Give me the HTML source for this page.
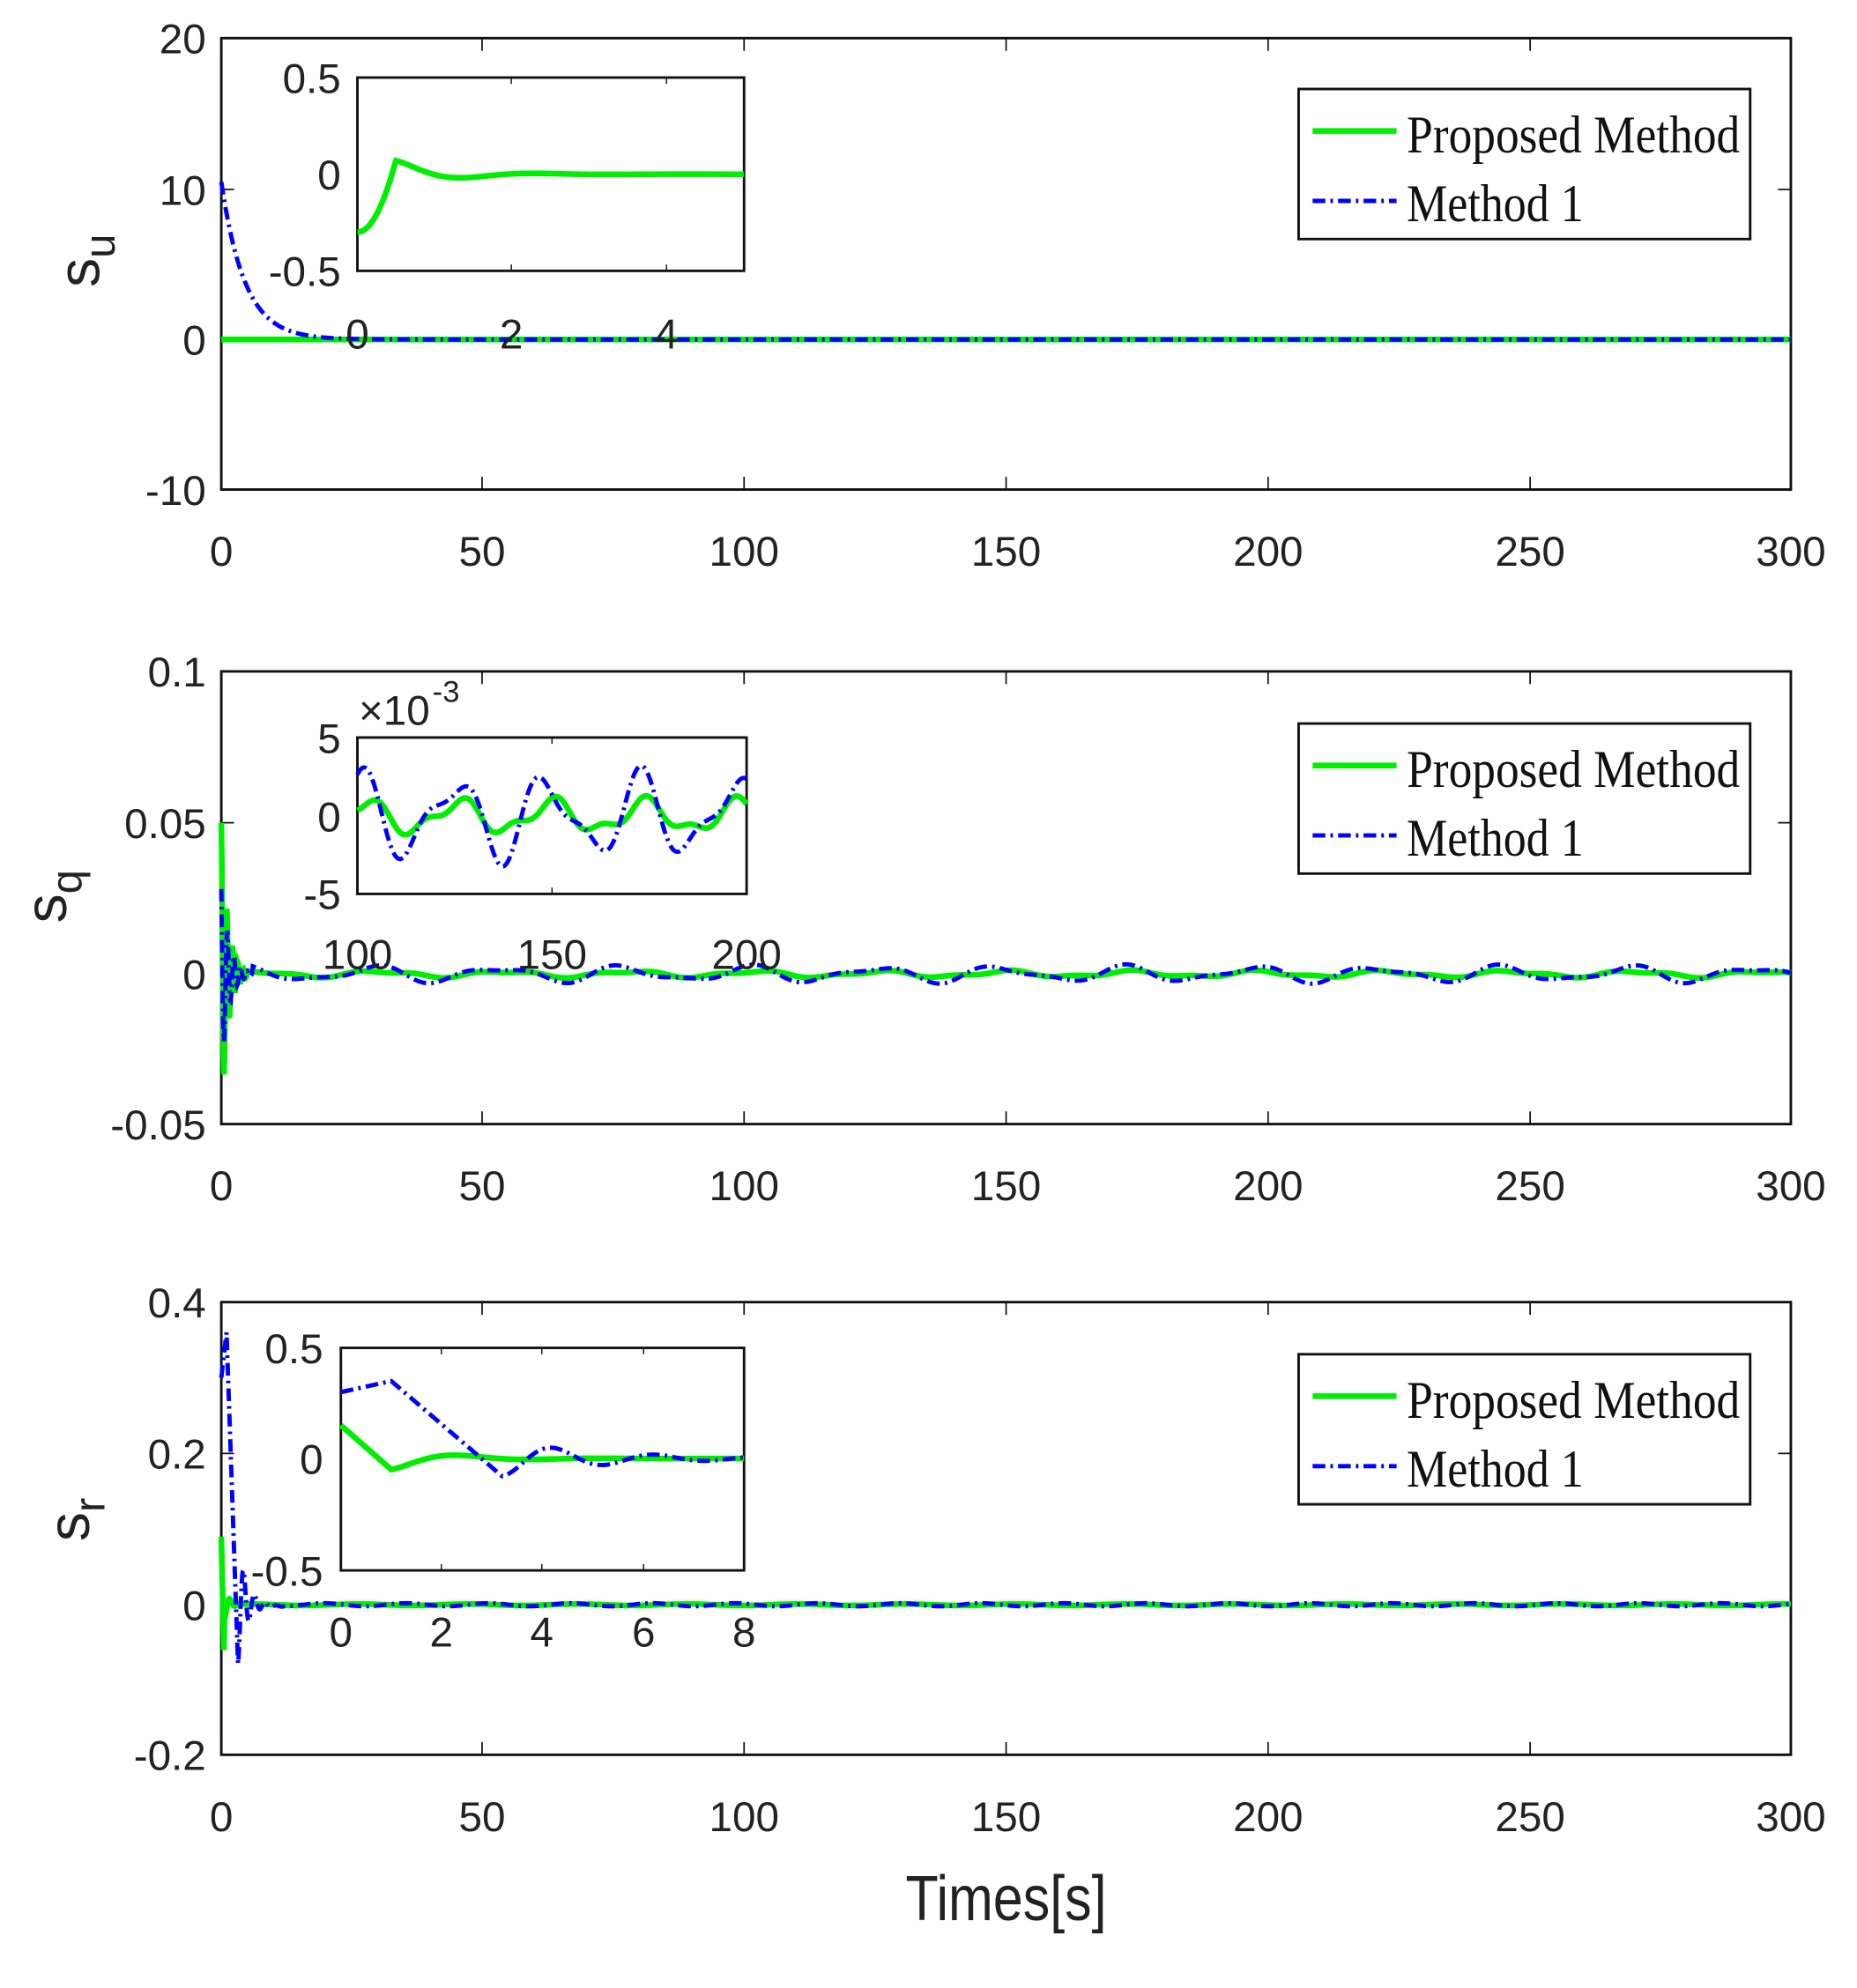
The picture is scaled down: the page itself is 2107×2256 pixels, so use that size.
<!DOCTYPE html>
<html><head><meta charset="utf-8"><style>
html,body{margin:0;padding:0;background:#fff}
svg{display:block}
text{font-family:"Liberation Sans",sans-serif;fill:#222}
.tk{font-size:33px}
.lg{font-family:"Liberation Serif",serif;font-size:42px;fill:#111}
</style></head><body>
<svg id="s" width="2107" height="2256" viewBox="0 0 1460 1563.4" preserveAspectRatio="none" xmlns="http://www.w3.org/2000/svg">
<rect width="1460" height="1564" fill="#fff"/>
<g id="g"></g>
</svg>
<script>
const g=document.getElementById('g');const NS='http://www.w3.org/2000/svg';
function el(t,a,txt){const e=document.createElementNS(NS,t);for(const k in a)e.setAttribute(k,a[k]);if(txt!==undefined)e.textContent=txt;g.appendChild(e);return e;}
function txt(x,y,s,cls,anchor,extra){return el('text',Object.assign({x:x,y:y,'class':cls||'tk','text-anchor':anchor||'middle'},extra||{}),s);}
function curve(f,t0,t1,X0,X1,tx0,tx1,Y0,Y1,v0,v1,style,n){n=n||800;let d='';
 for(let i=0;i<=n;i++){const t=t0+(t1-t0)*i/n;let v=f(t);let x=X0+(t-tx0)/(tx1-tx0)*(X1-X0);let y=Y0+(v-v0)/(v1-v0)*(Y1-Y0);d+=(i?'L':'M')+x.toFixed(2)+' '+y.toFixed(2);}
 el('path',Object.assign({d:d,fill:'none'},style));}
const G={stroke:'#00ee00','stroke-width':4.5};
const B={stroke:'#0000ff','stroke-width':3.4,'stroke-dasharray':'10 4 2 4'};
function axes(L,R,T,Bt,xt,yt,xlabY,tl){
 el('rect',{x:L,y:T,width:R-L,height:Bt-T,fill:'none',stroke:'#111','stroke-width':2});
 xt.forEach(([p,s])=>{el('line',{x1:p,x2:p,y1:T,y2:T+tl,stroke:'#111','stroke-width':1.2});el('line',{x1:p,x2:p,y1:Bt,y2:Bt-tl,stroke:'#111','stroke-width':1.2});txt(p,xlabY,s);});
 yt.forEach(([p,s])=>{el('line',{x1:L,x2:L+tl,y1:p,y2:p,stroke:'#111','stroke-width':1.2});el('line',{x1:R,x2:R-tl,y1:p,y2:p,stroke:'#111','stroke-width':1.2});txt(L-12,p+12,s,'tk','end');});
}
const XT=[[174,'0'],[379,'50'],[585,'100'],[791,'150'],[997,'200'],[1203,'250'],[1408,'300']];
function legend(T){el('rect',{x:1021,y:T,width:355,height:118,fill:'#fff',stroke:'#111','stroke-width':2});
 el('line',{x1:1032,x2:1098,y1:T+33,y2:T+33,stroke:'#00ee00','stroke-width':4.5});
 el('line',{x1:1032,x2:1098,y1:T+88,y2:T+88,stroke:'#0000ff','stroke-width':3.4,'stroke-dasharray':'10 4 2 4'});
 txt(1106,T+50,'Proposed Method','lg','start',{textLength:262,lengthAdjust:'spacingAndGlyphs'});txt(1106,T+104,'Method 1','lg','start',{textLength:139,lengthAdjust:'spacingAndGlyphs'});}
function ylab(x,y,main,sub){const e=el('text',{transform:`translate(${x},${y}) rotate(-90)`,style:'font-size:46px','text-anchor':'middle'});e.innerHTML=main+'<tspan style="font-size:34px" dy="12">'+sub+'</tspan>';}
// Panel 1
axes(174,1408,30,385,XT,[[30,'20'],[149,'10'],[267,'0'],[385,'-10']],445,10);
curve(t=>0,0,300,174,1408,0,300,267,149,0,10,G,10);
curve(t=>10.5*Math.exp(-t/4.5),0,300,174,1408,0,300,267,149,0,10,B,1500);
ylab(78,205,'s','u');
legend(70);
el('rect',{x:281,y:61,width:304,height:152,fill:'#fff',stroke:'#111','stroke-width':2});
[[61,'0.5'],[137,'0'],[213,'-0.5']].forEach(([p,s])=>txt(268,p+12,s,'tk','end'));
[[281,'0'],[402,'2'],[524,'4']].forEach(([p,s])=>{txt(p,274,s);el('line',{x1:p,x2:p,y1:61,y2:66,stroke:'#111'});el('line',{x1:p,x2:p,y1:213,y2:208,stroke:'#111'});});
curve(t=>t<0.5?-0.3+0.8*t*t*4*0.5*2*0.47:(0.07*Math.exp(-(t-0.5)*1.5)*Math.cos((t-0.5)*3.3)),0,5,281,585,0,5,137,61,0,0.5,G,400);
// Panel 2
axes(174,1408,528,884,XT,[[528,'0.1'],[647,'0.05'],[766,'0'],[884,'-0.05']],944,10);
const w=2*Math.PI/24;
function fq(t){if(t<5){return 0.05*Math.exp(-t*0.8)*Math.cos(t*6)-0.0;}return 0.0009*Math.sin(w*t)+0.0004*Math.sin(2.1*w*t);}
function bq(t){if(t<6){return 0.032*Math.exp(-t*0.7)*Math.cos(t*5+0.5);}return 0.0022*Math.sin(w*t+0.3)+0.001*Math.sin(1.7*w*t);}
curve(fq,0,300,174,1408,0,300,766,647,0,0.05,G,3000);
curve(bq,0,300,174,1408,0,300,766,647,0,0.05,B,3000);
ylab(52,705,'s','q');
legend(569);
el('rect',{x:281,y:580,width:306,height:123,fill:'#fff',stroke:'#111','stroke-width':2});
[[580,'5'],[642,'0'],[703,'-5']].forEach(([p,s])=>txt(268,p+12,s,'tk','end'));
[[281,'100'],[434,'150'],[587,'200']].forEach(([p,s])=>{txt(p,762,s);el('line',{x1:p,x2:p,y1:580,y2:585,stroke:'#111'});el('line',{x1:p,x2:p,y1:703,y2:698,stroke:'#111'});});
txt(282,570,'×10','tk','start');txt(340,552,'-3','tk','start',{style:'font-size:24px'});
curve(t=>fq(t)*1000,100,200,281,587,100,200,642,580,0,5,G,600);
curve(t=>bq(t)*1000,100,200,281,587,100,200,642,580,0,5,B,600);
// Panel 3
axes(174,1408,1024,1380,XT,[[1024,'0.4'],[1143,'0.2'],[1262,'0'],[1380,'-0.2']],1440,10);
function fr(t){if(t<0.6)return 0.09-0.18*t/0.6;return -0.02*Math.exp(-(t-0.6))*Math.cos((t-0.6)*3)+0.001*Math.sin(t*0.3);}
function br(t){if(t<1)return 0.3+0.06*t;if(t<3.2)return 0.36-0.44*(t-1)/2.2;return -0.08*Math.exp(-(t-3.2)*0.6)*Math.cos((t-3.2)*3)+0.002*Math.sin(t*0.4);}
curve(fr,0,300,174,1408,0,300,1262,1143,0,0.2,G,3000);
curve(br,0,300,174,1408,0,300,1262,1143,0,0.2,B,3000);
ylab(70,1195,'s','r');
legend(1065);
el('rect',{x:268,y:1060,width:317,height:175,fill:'#fff',stroke:'#111','stroke-width':2});
[[1060,'0.5'],[1147,'0'],[1235,'-0.5']].forEach(([p,s])=>txt(254,p+12,s,'tk','end'));
[[268,'0'],[347,'2'],[426,'4'],[506,'6'],[585,'8']].forEach(([p,s])=>{txt(p,1295,s);el('line',{x1:p,x2:p,y1:1060,y2:1065,stroke:'#111'});el('line',{x1:p,x2:p,y1:1235,y2:1230,stroke:'#111'});});
function fri(t){if(t<1)return 0.15-0.2*t;return -0.05*Math.exp(-(t-1)*0.9)*Math.cos((t-1)*2.2);}
function bri(t){if(t<1)return 0.3+0.05*t;if(t<3.2)return 0.35-0.43*(t-1)/2.2;return -0.08*Math.exp(-(t-3.2)*0.5)*Math.cos((t-3.2)*3.1);}
curve(fri,0,8,268,585,0,8,1147,1060,0,0.5,G,400);
curve(bri,0,8,268,585,0,8,1147,1060,0,0.5,B,400);
txt(791,1510,'Times[s]','tk','middle',{style:'font-size:50px',textLength:158,lengthAdjust:'spacingAndGlyphs'});
</script>
</body></html>
